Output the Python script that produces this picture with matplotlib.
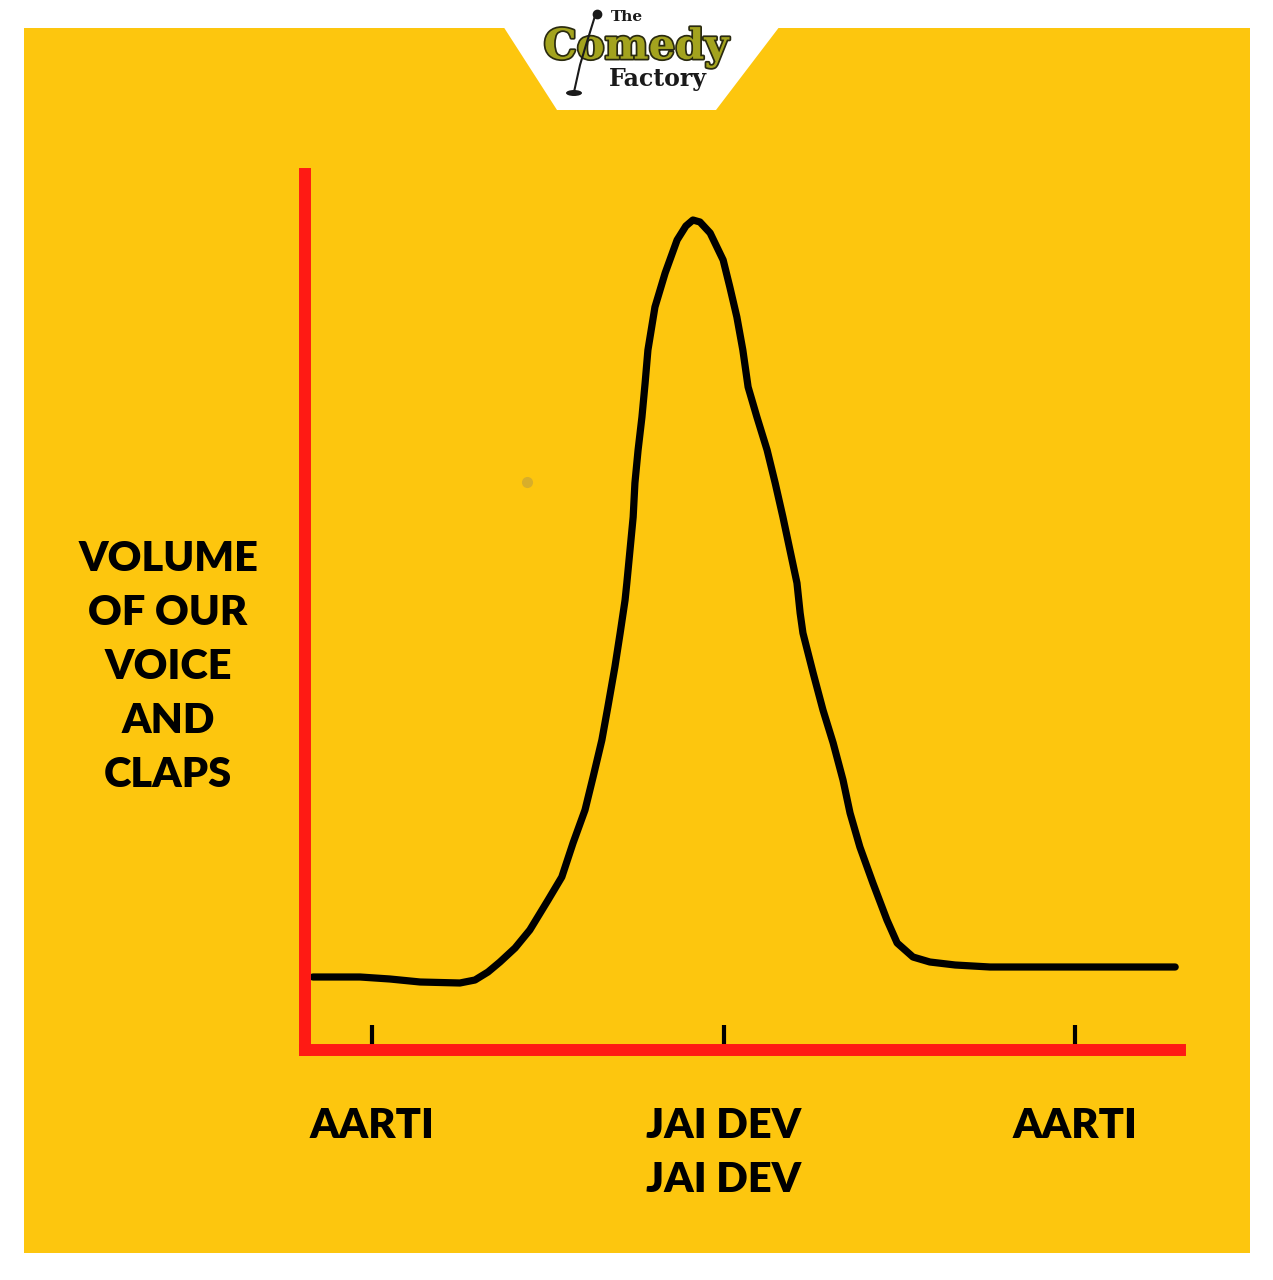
import matplotlib.pyplot as plt
import matplotlib.patheffects as pe
from matplotlib.patches import Rectangle, Polygon, Ellipse

# curve: position along the song (0 = aarti, 1 = jai dev, 2 = aarti) vs volume
song_pos = [-0.168, -0.034, 0.051, 0.137, 0.250, 0.293, 0.330, 0.364, 0.407, 0.449,
            0.501, 0.540, 0.572, 0.606, 0.629, 0.654, 0.671, 0.691, 0.706, 0.720,
            0.725, 0.734, 0.743, 0.748, 0.757, 0.768, 0.777, 0.785, 0.805, 0.834,
            0.868, 0.893, 0.913, 0.933, 0.962, 0.999, 1.018, 1.038, 1.055, 1.070,
            1.095, 1.124, 1.147, 1.169, 1.189, 1.209, 1.218, 1.226, 1.255, 1.283,
            1.312, 1.340, 1.360, 1.388, 1.425, 1.465, 1.494, 1.539, 1.587, 1.659,
            1.758, 1.929, 2.285]
volume = [0.73, 0.73, 0.71, 0.68, 0.67, 0.70, 0.78, 0.88, 1.02, 1.20,
          1.50, 1.73, 2.07, 2.40, 2.73, 3.10, 3.43, 3.83, 4.17, 4.50,
          4.67, 5.00, 5.33, 5.67, 6.00, 6.33, 6.67, 7.00, 7.43, 7.77,
          8.10, 8.24, 8.30, 8.28, 8.17, 7.90, 7.63, 7.33, 7.00, 6.63,
          6.33, 6.00, 5.67, 5.33, 5.00, 4.67, 4.37, 4.17, 3.77, 3.40,
          3.07, 2.70, 2.37, 2.03, 1.67, 1.30, 1.07, 0.93, 0.88, 0.85,
          0.83, 0.83, 0.83]

tick_pos = [0, 1, 2]
tick_labels = ['AARTI', 'JAI DEV\nJAI DEV', 'AARTI']
ylabel = 'VOLUME\nOF OUR\nVOICE\nAND\nCLAPS'

W, H = 1273, 1280
YELLOW = '#FDC60E'
RED = '#FF1A14'
FONT = ['Lato', 'DejaVu Sans']

fig = plt.figure(figsize=(W / 100, H / 100), dpi=100, facecolor='white')

def fx(px):
    return px / W

def fy(py):
    return 1 - py / H

# yellow card
fig.patches.append(Rectangle((fx(24), fy(1253)), fx(1250) - fx(24), fy(28) - fy(1253),
                             transform=fig.transFigure, facecolor=YELLOW, edgecolor='none', zorder=-2))
# logo tab
fig.patches.append(Polygon([(fx(503), fy(26)), (fx(780), fy(26)), (fx(716), fy(110)), (fx(557), fy(110))],
                           closed=True, transform=fig.transFigure, facecolor='white', edgecolor='none', zorder=-1))

# logo
fig.text(fx(627), fy(17), 'The', ha='center', va='center', fontsize=11, fontweight='bold',
         family='DejaVu Serif', color='#1a1a1a', zorder=5)
fig.text(fx(636), fy(47), 'Comedy', ha='center', va='center', fontsize=30, fontweight='bold',
         family='DejaVu Serif', color='#A3A31E', zorder=5,
         path_effects=[pe.withStroke(linewidth=2.5, foreground='#2a2a10')])
fig.text(fx(658), fy(79), 'Factory', ha='center', va='center', fontsize=17, fontweight='bold',
         family='DejaVu Serif', color='#1a1a1a', zorder=5)
fig.lines.append(plt.Line2D([fx(595), fx(586), fx(580), fx(574)], [fy(16), fy(45), fy(65), fy(92)],
                            transform=fig.transFigure, color='#1a1a1a', lw=1.5, zorder=6))
fig.lines.append(plt.Line2D([fx(597)], [fy(14)], transform=fig.transFigure, marker='o',
                            markersize=6, color='#1a1a1a', zorder=6))
fig.patches.append(Ellipse((fx(574), fy(93)), 16 / W, 6 / H, transform=fig.transFigure,
                           facecolor='#1a1a1a', zorder=6))

# axes box: spines drawn with projecting caps, so the box is inset by half a line width
ax = fig.add_axes([fx(305), fy(1050), fx(1180) - fx(305), fy(174) - fy(1050)])
ax.set_zorder(2)
ax.set_facecolor('none')
ax.set_xlim(-0.1906, 2.2987)
ax.set_ylim(0, 8.76)

ax.plot(song_pos, volume, color='black', lw=5.2, solid_capstyle='round', solid_joinstyle='round')

for side in ['top', 'right']:
    ax.spines[side].set_visible(False)
for side in ['left', 'bottom']:
    ax.spines[side].set_color(RED)
    ax.spines[side].set_linewidth(8.6)
    ax.spines[side].set_capstyle('projecting')

ax.set_xticks(tick_pos)
ax.set_xticklabels(tick_labels, fontsize=30, fontweight='heavy', family=FONT, linespacing=1.52)
ax.tick_params(axis='x', direction='in', length=18, width=3, color='black', pad=41)
ax.set_yticks([])

fig.text(fx(168), fy(667), ylabel, ha='center', va='center', fontsize=30, fontweight='heavy',
         family=FONT, linespacing=1.52, color='black')

# small smudge on the card
fig.lines.append(plt.Line2D([fx(527)], [fy(482)], transform=fig.transFigure, marker='o',
                            markersize=8, color='#D8AE2A', markeredgewidth=0, zorder=2))

fig.savefig('out.png', dpi=100, facecolor='white')
